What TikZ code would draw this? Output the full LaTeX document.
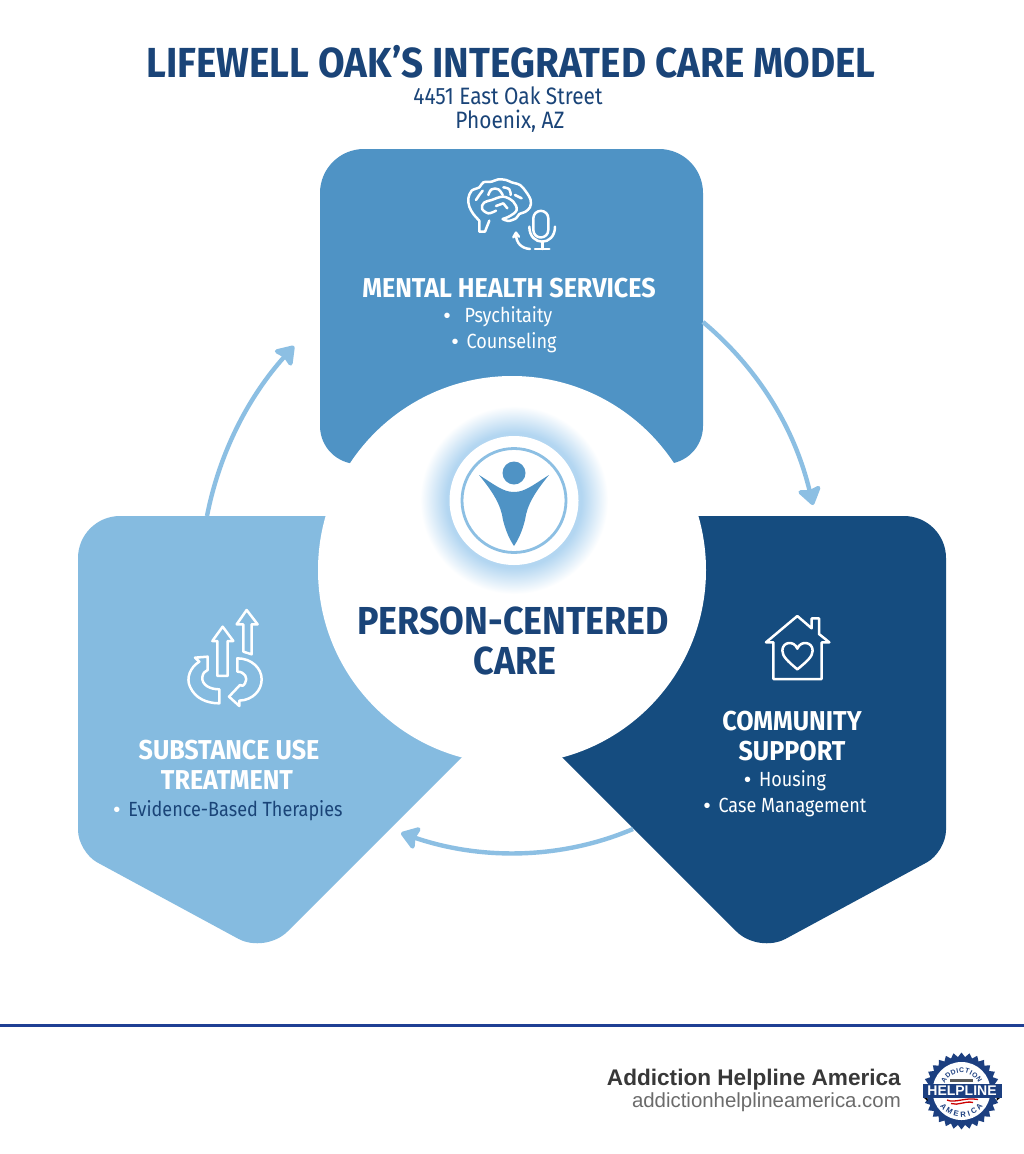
\documentclass[tikz,border=0pt]{standalone}
\usepackage{fontspec}
\setmainfont{Fira Sans}
\newfontfamily\cond[FakeStretch=0.88]{Fira Sans}
\newfontfamily\condh[FakeStretch=0.92]{Fira Sans}
\newfontfamily\foot{Liberation Sans}
\usetikzlibrary{arrows.meta,shapes.geometric,decorations.text}
\definecolor{navy}{HTML}{1A4478}
\definecolor{midb}{HTML}{4F93C5}
\definecolor{lightb}{HTML}{85BBE0}
\definecolor{darkb}{HTML}{154C7F}
\definecolor{arrowc}{HTML}{8CBFE3}
\definecolor{glowc}{HTML}{B3D6F1}
\definecolor{rulec}{HTML}{1F3F94}
\definecolor{badgec}{HTML}{1C3F80}
\pgfdeclareradialshading{halo}{\pgfpoint{0bp}{0bp}}{color(0bp)=(glowc);color(18bp)=(glowc);color(25bp)=(white);color(50bp)=(white)}
\newcommand{\fs}[1]{\fontsize{#1}{#1}\selectfont}
\newcommand{\dotw}{\textcolor{white}{\foot\fs{20}•}}
\tikzset{
  flow/.style={arrowc,line width=4.4,-{Stealth[length=20,width=27,inset=3,round]}},
  ico/.style={white,line width=2.5,line join=round,line cap=round},
  lbl/.style={inner sep=0,align=center,text=white},
  head/.style={lbl,font=\condh\bfseries\fs{27.3}},
  item/.style={lbl,font=\cond\fs{20.5}},
}
\begin{document}
\begin{tikzpicture}[x=1pt,y=-1pt]
\useasboundingbox (0,0) rectangle (1024,1154);
\fill[white] (0,0) rectangle (1024,1154);
% panels
\fill[midb] (320,250) [rounded corners=44] -- (320,149) -- (703,149) -- (703,300) [sharp corners] -- (703,350) [rounded corners=38] -- (703,464) -- (320,464) [sharp corners] -- (320,350) -- cycle;
\fill[lightb] (340,516) [rounded corners=42] -- (78,516) [rounded corners=22] -- (78,852) [rounded corners=31] -- (265.5,953.5) [sharp corners] -- (472,747) -- (472,516) -- cycle;
\fill[darkb] (684,516) [rounded corners=42] -- (946,516) [rounded corners=22] -- (946,852) [rounded corners=31] -- (758.5,953.5) [sharp corners] -- (552,747) -- (552,516) -- cycle;
% centre
\fill[white] (512,570) circle (194);
\shade[shading=halo] (514,500) circle (94);
\node[circle,fill=white,minimum size=129,inner sep=0] (disc) at (514,500.5) {};
\node[circle,draw=arrowc,line width=2.8,minimum size=104,inner sep=0] (ring) at (514,500.5) {};
\fill[midb] (514,473) circle (11.5);
\fill[midb] (479,475) .. controls (495,485) and (503,492) .. (514,492) .. controls (525,492) and (533,485) .. (549,475) .. controls (535,492) and (527,505) .. (525,520) .. controls (522,532) and (518,540) .. (514,546) .. controls (510,540) and (506,532) .. (503,520) .. controls (501,505) and (493,492) .. (479,475) -- cycle;
\node[lbl,text=navy,font=\condh\bfseries\fs{39}] (pcc1) at (513,621) {PERSON-CENTERED};
\node[lbl,text=navy,font=\condh\bfseries\fs{39}] (pcc2) at (515,661) {CARE};
% connectors
\coordinate (m) at (703,322);
\coordinate (c) at (813,505);
\coordinate (c2) at (633,829);
\coordinate (s) at (401,833);
\coordinate (s2) at (207,516);
\coordinate (m2) at (294,346);
\draw[flow] (m) .. controls (760,370) and (795,430) .. (c);
\draw[flow] (c2) .. controls (560,860) and (480,860) .. (s);
\draw[flow] (s2) .. controls (220,450) and (250,395) .. (m2);
% title
\node[lbl,text=navy,font=\condh\bfseries\fs{42}] (title) at (511,62) {LIFEWELL OAK’S INTEGRATED CARE MODEL};
\node[lbl,text=navy,font=\cond\fs{23.7}] (addr1) at (508,96) {4451 East Oak Street};
\node[lbl,text=navy,font=\cond\fs{23.7}] (addr2) at (510,121) {Phoenix, AZ};
% mental health
\node[head] (mh) at (509,288) {MENTAL HEALTH SERVICES};
\node[item] (mh1) at (498,317) {\dotw\hspace{14pt}Psychitaity};
\node[item] (mh2) at (504,343) {\dotw\hspace{8pt}Counseling};
% substance
\node[head] (su1) at (229,750) {SUBSTANCE USE};
\node[head] (su2) at (227,780) {TREATMENT};
\node[item,text=navy] (su3) at (228,811) {\dotw\hspace{8pt}Evidence-Based Therapies};
% community
\node[head] (cs1) at (792,721) {COMMUNITY};
\node[head] (cs2) at (792,751) {SUPPORT};
\node[item] (cs3) at (785,781) {\dotw\hspace{8pt}Housing};
\node[item] (cs4) at (785,807) {\dotw\hspace{8pt}Case Management};
% brain + mic icon
\begin{scope}[shift={(420,150)},x=0.3333pt,y=-0.3333pt]
\draw[ico] plot[smooth,tension=.55] coordinates {(178,212)(160,192)(148,170)(145,145)(155,122)(178,112)(190,97)(215,95)(235,88)(258,90)(275,97)(300,105)(318,125)(332,150)(330,172)(315,186)(298,192)(288,205)(265,213)(248,207)};
\draw[ico] (178,212) -- (178,245) -- (195,245) -- (208,212);
\draw[ico] plot[smooth,tension=.6] coordinates {(248,207)(270,198)(290,180)(280,155)(250,140)(215,150)(192,158)(186,176)(205,190)(228,182)};
\draw[ico] plot[smooth,tension=.7] coordinates {(205,135)(215,118)(235,118)(248,135)};
\draw[ico] plot[smooth,tension=.7] coordinates {(250,112)(268,118)(272,135)};
\draw[ico] (168,150) -- (178,135) -- (188,122);
\draw[ico] (285,135) -- (305,145);
\draw[ico] (228,168) -- (250,160) -- (262,175);
\draw[ico] (340,205) arc (180:360:22.5) -- (385,240) arc (0:180:22.5) -- cycle;
\draw[ico] (328,230) .. controls (328,290) and (405,290) .. (405,230);
\draw[ico] (367,274) -- (367,297);
\draw[ico] (345,297) -- (388,297);
\draw[ico] (330,297) .. controls (305,295) and (288,280) .. (288,252);
\draw[ico] (280,262) -- (288,248) -- (297,260);
\end{scope}
% recovery arrows icon
\begin{scope}[shift={(160,590)},x=0.3333pt,y=-0.3333pt]
\draw[ico] (172,258) -- (172,153) -- (157,153) -- (188,110) -- (220,153) -- (203,153) -- (203,258) -- cycle;
\draw[ico] (250,185) -- (275,193) -- (275,103) -- (293,103) -- (260,60) -- (230,103) -- (250,103) -- cycle;
\draw[ico] (178,298) .. controls (150,298) and (125,285) .. (127,262) .. controls (128,250) and (135,243) .. (143,240) -- (143,200) -- (105,203) -- (118,215) .. controls (90,232) and (78,265) .. (90,290) .. controls (105,325) and (140,340) .. (178,340) -- cycle;
\draw[ico] (232,205) -- (232,245) .. controls (255,245) and (265,265) .. (255,280) .. controls (250,288) and (245,290) .. (240,285) -- (207,320) -- (238,348) -- (238,332) .. controls (280,330) and (305,300) .. (305,268) .. controls (305,235) and (275,205) .. (232,205) -- cycle;
\end{scope}
% house icon
\begin{scope}[shift={(740,600)},x=0.3333pt,y=-0.3333pt]
\draw[ico] (78,127) -- (172,48) -- (215,85) -- (215,55) -- (237,55) -- (237,102) -- (268,127) -- (245,127) -- (245,237) -- (100,237) -- (100,127) -- cycle;
\draw[ico] (172,208) .. controls (145,185) and (127,170) .. (127,152) .. controls (127,125) and (162,120) .. (172,146) .. controls (182,120) and (218,125) .. (218,152) .. controls (218,170) and (200,185) .. (172,208) -- cycle;
\end{scope}
% footer
\draw[rulec,line width=3] (0,1025) -- (1024,1025);
\node[inner sep=0,anchor=east,text=black!78,font=\foot\bfseries\fs{22.6}] (org) at (901,1080) {Addiction Helpline America};
\node[inner sep=0,anchor=east,text=black!58,font=\foot\fs{20.4}] (web) at (901,1102) {addictionhelplineamerica.com};
% badge
\node[star,star points=30,star point ratio=1.13,fill=badgec,minimum size=77,inner sep=0] (badge) at (961.5,1091) {};
\fill[white] (961.5,1091) circle (29);
\path[decorate,decoration={text along path,text align={fit to path},text={|\color{badgec}\foot\bfseries\fs{6.8}|ADDICTION}}] (944.73,1083.18) arc (205:335:18.5);
\path[decorate,decoration={text along path,text align={fit to path},text={|\color{badgec}\foot\bfseries\fs{7.6}|AMERICA}}] (940.02,1105.9) arc (145:35:26.2);
\fill[black!65] (950,1079) rectangle (973,1081.5);
\fill[black] (923,1097) -- (927.5,1097) -- (927.5,1101) -- cycle;
\fill[black] (1001,1097) -- (996.5,1097) -- (996.5,1101) -- cycle;
\node[fill=badgec,minimum width=79,minimum height=14,inner sep=0,text=white,font=\foot\bfseries\fs{14}] (banner) at (962,1090.5) {HELPLINE};
\draw[red!80!black,line width=1.3] (947,1100) .. controls (955,1103.5) and (965,1097) .. (978,1099.5);
\draw[red!80!black,line width=1.3] (951,1103.5) .. controls (958,1106) and (965,1100.5) .. (973,1102.5);
\end{tikzpicture}
\end{document}
